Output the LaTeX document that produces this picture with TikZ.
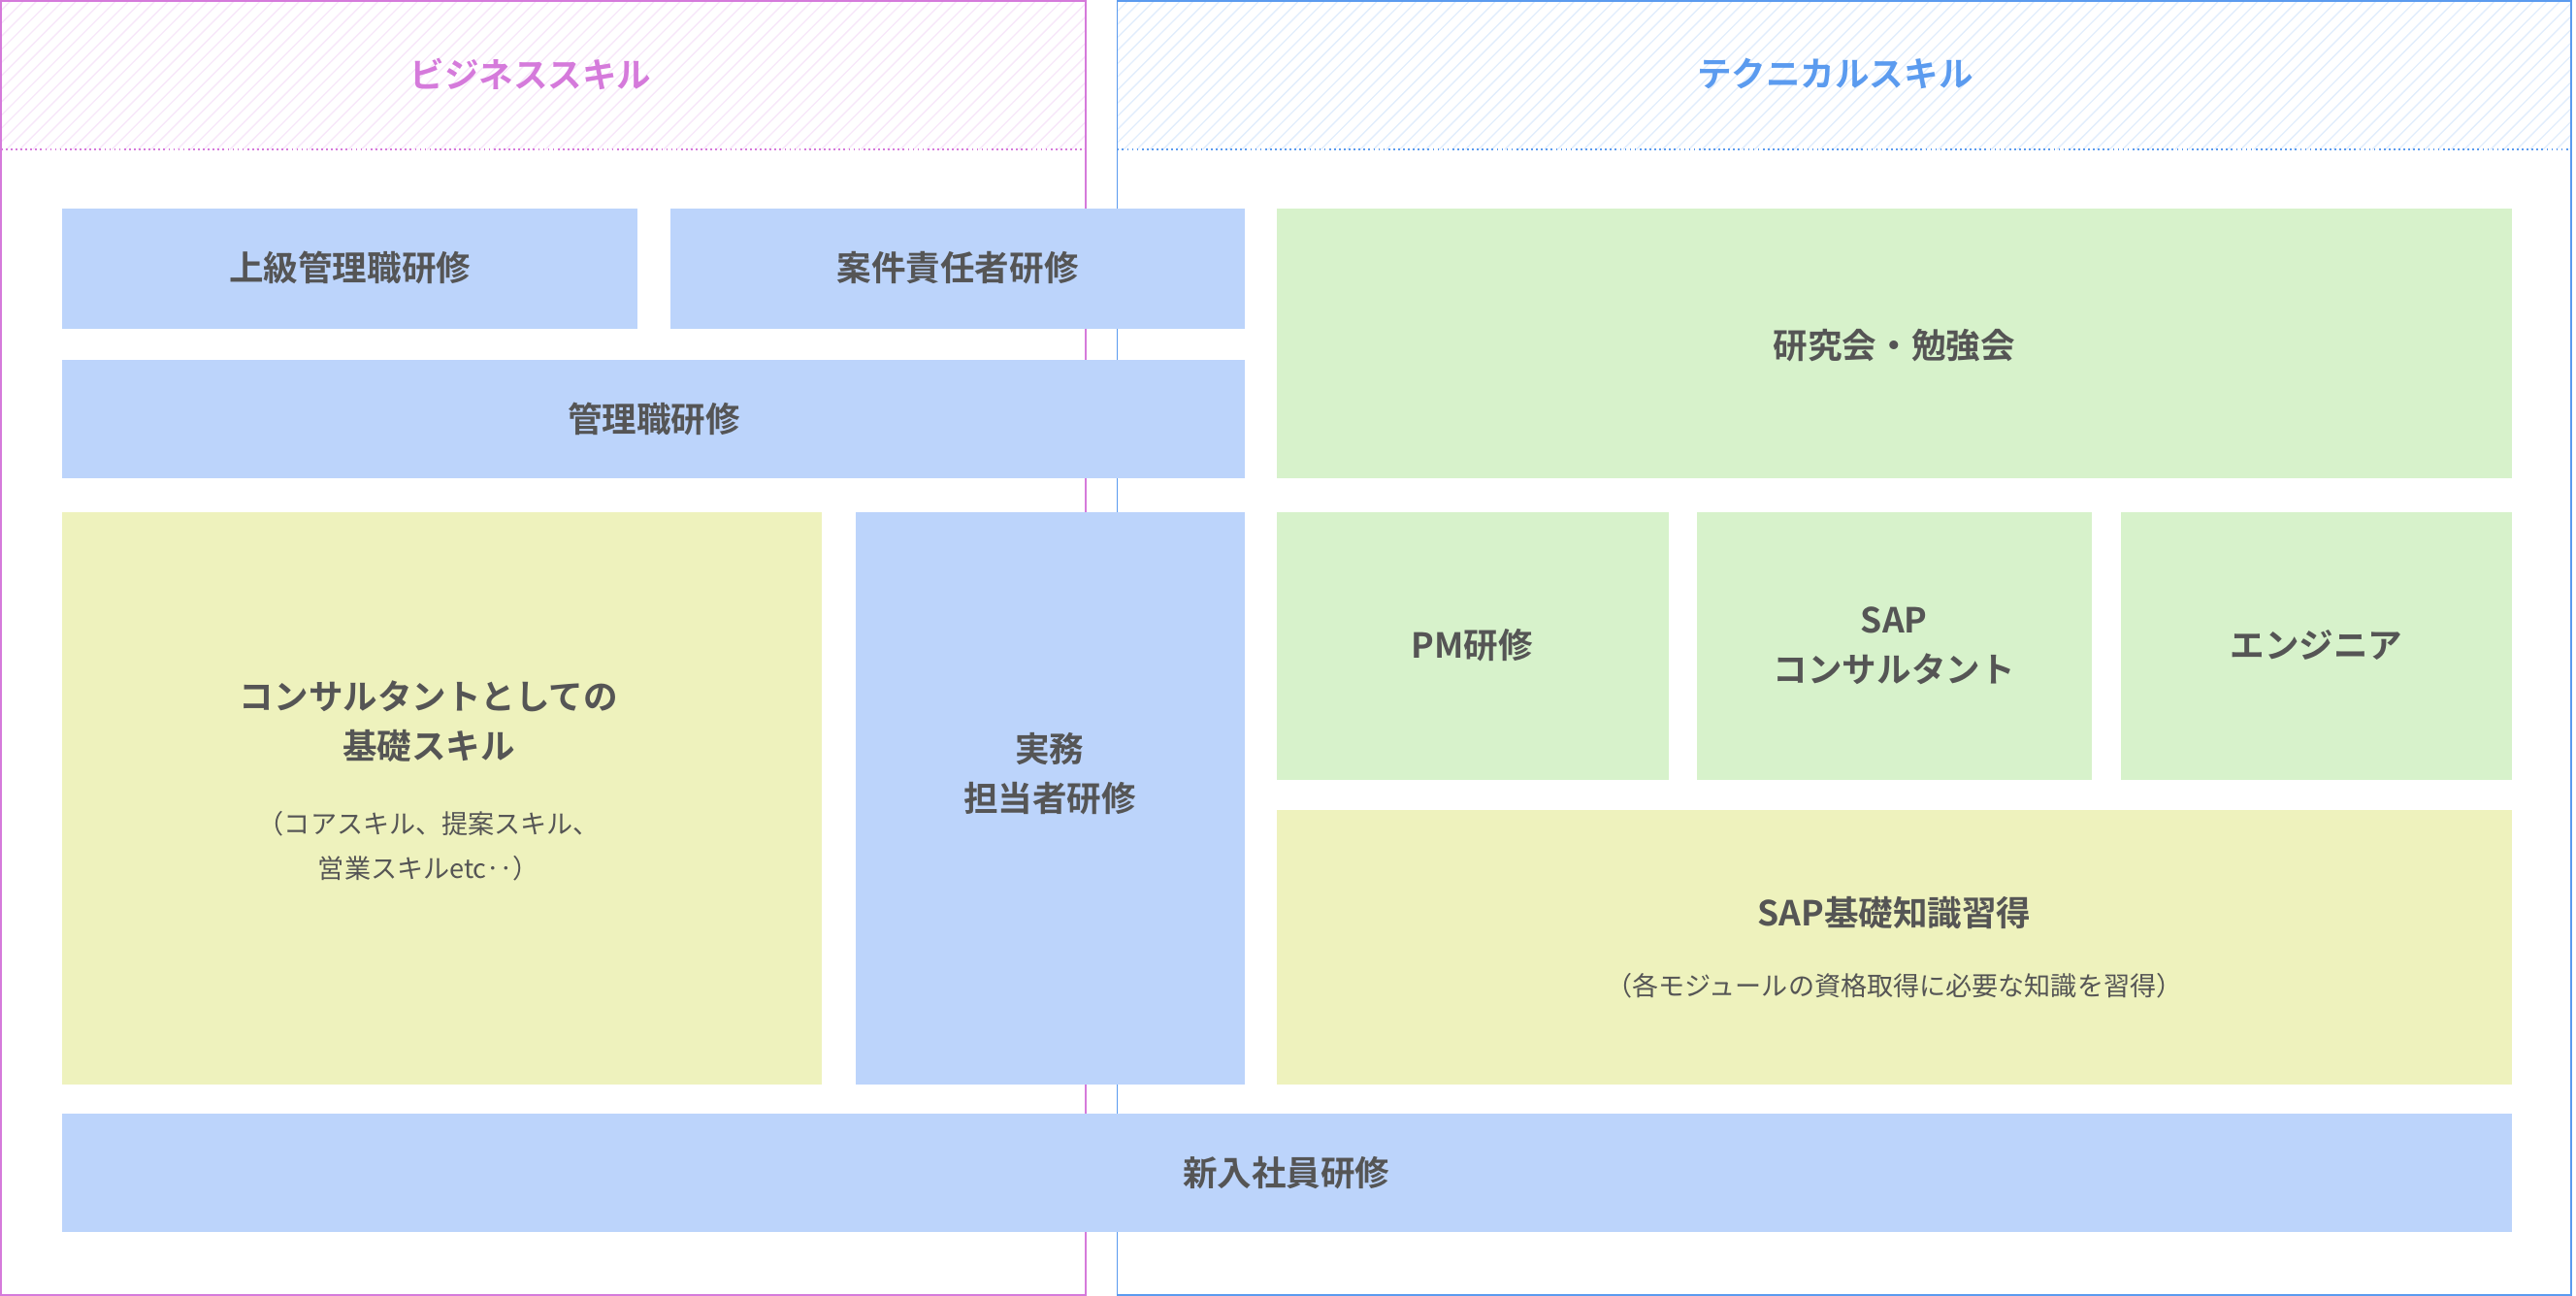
\documentclass[tikz,border=0pt]{standalone}
\usepackage{fontspec}
\setmainfont{Noto Sans CJK JP}[BoldFont={* Bold}]
\definecolor{pk}{HTML}{D57ADB}
\definecolor{bl}{HTML}{5B9BEF}
\definecolor{bb}{HTML}{BCD4FB}
\definecolor{yb}{HTML}{EEF2BD}
\definecolor{gb}{HTML}{D7F2CB}
\definecolor{tx}{HTML}{555555}
\begin{document}
\begin{tikzpicture}[x=1pt,y=-1pt,
  bx/.style={inner sep=0,text=tx,font=\bfseries\fontsize{21}{30}\selectfont,align=center},
  sm/.style={text=tx,font=\fontsize{16}{27}\selectfont,align=center}]
\useasboundingbox (0,0) rectangle (1568,789);
% headers hatch
\begin{scope}
\clip (0,0) rectangle (661,91);
\foreach \i in {-100,-92,...,760} \draw[pk!18,line width=0.8] (\i,91) -- (\i+91,0);
\end{scope}
\begin{scope}
\clip (680,0) rectangle (1565,91);
\foreach \i in {580,588,...,1570} \draw[bl!18,line width=0.8] (\i,91) -- (\i+91,0);
\end{scope}
\draw[pk,line width=1] (0.5,0.5) rectangle (661,788.5);
\draw[pk,dotted,line width=1] (0.5,91) -- (661,91);
\draw[bl,line width=1] (680,0.5) rectangle (1565,788.5);
\draw[bl,dotted,line width=1] (680,91) -- (1565,91);
\node[bx,text=pk] (t1) at (323,45) {ビジネススキル};
\node[bx,text=bl] (t2) at (1117,45) {テクニカルスキル};
% boxes
\fill[bb] (38,127) rectangle (388,200); \node[bx] (a) at (213,163) {上級管理職研修};
\fill[bb] (408,127) rectangle (758,200); \node[bx] (b) at (583,163) {案件責任者研修};
\fill[bb] (38,219) rectangle (758,291); \node[bx] (c) at (398,255) {管理職研修};
\fill[yb] (38,312) rectangle (500,660);
\node[bx] (d) at (261,439) {コンサルタントとしての\\基礎スキル};
\node[sm] (d2) at (261,515) {（コアスキル、提案スキル、\\営業スキルetc‥）};
\fill[bb] (521,312) rectangle (758,660); \node[bx] (e) at (639,471) {実務\\担当者研修};
\fill[bb] (38,678) rectangle (1529,750); \node[bx] (f) at (783,714) {新入社員研修};
\fill[gb] (777,127) rectangle (1529,291); \node[bx] (g) at (1153,210) {研究会・勉強会};
\fill[gb] (777,312) rectangle (1016,475); \node[bx] (h) at (896,393) {PM研修};
\fill[gb] (1033,312) rectangle (1273,475); \node[bx] (i) at (1153,393) {SAP\\コンサルタント};
\fill[gb] (1291,312) rectangle (1529,475); \node[bx] (j) at (1410,393) {エンジニア};
\fill[yb] (777,493) rectangle (1529,660); \node[bx] (k) at (1153,556) {SAP基礎知識習得};
\node[sm] (k2) at (1153,600) {（各モジュールの資格取得に必要な知識を習得）};
\end{tikzpicture}
\end{document}
